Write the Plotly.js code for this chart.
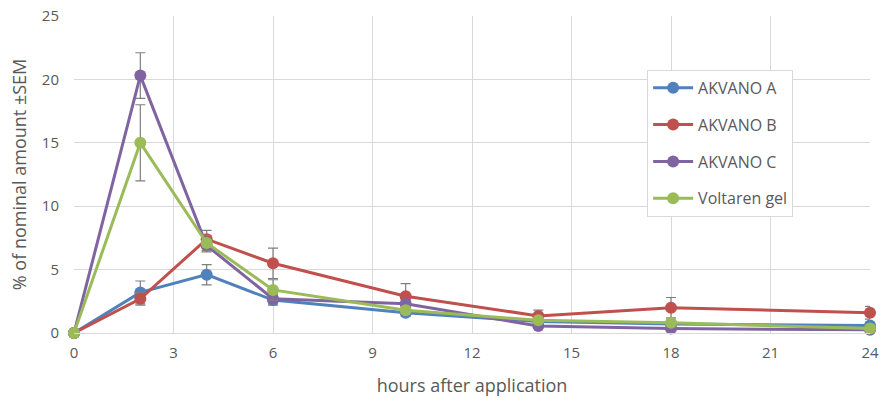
<!DOCTYPE html>
<html><head><meta charset="utf-8">
<script src="https://cdn.plot.ly/plotly-3.0.1.min.js"></script>
<style>html,body{margin:0;padding:0;background:#fff}#c{width:882px;height:405px}</style>
</head><body><div id="c"></div>
<script>
const hours = [0, 2, 4, 6, 10, 14, 18, 24];
const seriesNames = ["AKVANO A", "AKVANO B", "AKVANO C", "Voltaren gel"];
const akvanoA = [0, 3.2, 4.6, 2.6, 1.6, 0.9, 0.7, 0.6];
const akvanoAErr = [0, 0.9, 0.8, 0.4, 0.3, 0.2, 0.2, 0.1];
const akvanoB = [0, 2.7, 7.4, 5.5, 2.9, 1.35, 2.0, 1.6];
const akvanoBErr = [0, 0.5, 0.7, 1.2, 1.0, 0.45, 0.8, 0.5];
const akvanoC = [0, 20.3, 6.9, 2.7, 2.3, 0.55, 0.35, 0.25];
const akvanoCErr = [0, 1.8, 0.5, 0.4, 0.3, 0.1, 0.1, 0.05];
const voltaren = [0, 15.0, 7.1, 3.4, 1.8, 1.0, 0.8, 0.35];
const voltarenErr = [0, 3.0, 0.6, 0.8, 0.3, 0.2, 0.2, 0.1];
const colors = ["#4f81bd", "#c0504d", "#8064a2", "#9bbb59"];

const vals = [akvanoA, akvanoB, akvanoC, voltaren];
const errs = [akvanoAErr, akvanoBErr, akvanoCErr, voltarenErr];
const traces = vals.map((v, i) => ({
  x: hours, y: v, name: seriesNames[i], legendgroup: "g" + i,
  type: "scatter", mode: "lines+markers", cliponaxis: false,
  line: {color: colors[i], width: 3},
  marker: {color: colors[i], size: 12},
  error_y: {type: "data", array: errs[i], visible: true, color: "#7f7f7f", thickness: 1.2, width: 5}
}));

const layout = {
  width: 882, height: 405,
  margin: {l: 74, r: 12, t: 16, b: 72},
  paper_bgcolor: "#fff", plot_bgcolor: "#fff",
  font: {family: "Open Sans, Liberation Sans, sans-serif", color: "#595959", size: 14},
  showlegend: true,
  legend: {x: 0.72, y: 0.83, xanchor: "left", yanchor: "top", bgcolor: "#fff",
    bordercolor: "#d9d9d9", borderwidth: 1, font: {size: 16, color: "#595959"},
    tracegroupgap: 13, itemwidth: 40},
  xaxis: {range: [0, 24], tickvals: [0,3,6,9,12,15,18,21,24], showgrid: true,
    gridcolor: "#d9d9d9", zeroline: false, showline: true, linecolor: "#d9d9d9",
    ticks: "", ticklabelstandoff: 6, tickfont: {size: 15, color: "#595959"},
    title: {text: "hours after application", font: {size: 18, color: "#595959"}, standoff: 18}},
  yaxis: {range: [0, 25], dtick: 5, showgrid: true, gridcolor: "#d9d9d9",
    zeroline: false, showline: false, ticks: "", ticklabelstandoff: 14,
    tickfont: {size: 15, color: "#595959"},
    title: {text: "% of nominal amount ±SEM", font: {size: 18, color: "#595959"}, standoff: 10}}
};
Plotly.newPlot("c", traces, layout, {displayModeBar: false, staticPlot: true});
</script></body></html>
